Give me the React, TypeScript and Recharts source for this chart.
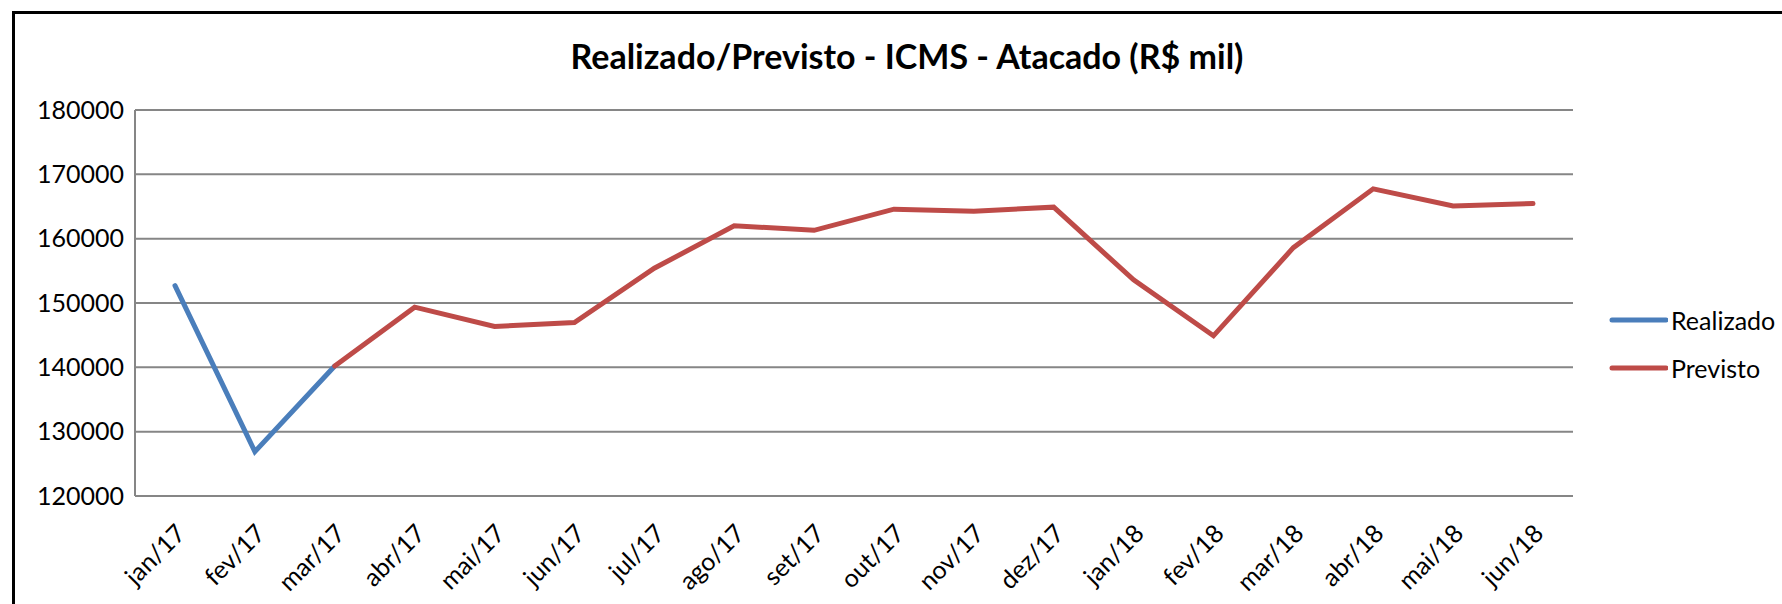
import React from "react";
import { LineChart, Line, XAxis, YAxis, CartesianGrid, Legend } from "recharts";

const months = [
  "jan/17", "fev/17", "mar/17", "abr/17", "mai/17", "jun/17", "jul/17", "ago/17", "set/17",
  "out/17", "nov/17", "dez/17", "jan/18", "fev/18", "mar/18", "abr/18", "mai/18", "jun/18",
];
const realizado: (number | null)[] = [
  152700, 126900, 140200, null, null, null, null, null, null,
  null, null, null, null, null, null, null, null, null,
];
const previsto: (number | null)[] = [
  null, null, 140200, 149350, 146350, 146950, 155400, 162000, 161300,
  164580, 164250, 164900, 153600, 144900, 158600, 167750, 165080, 165450,
];
const yTicks = [120000, 130000, 140000, 150000, 160000, 170000, 180000];
const seriesOrder = ["Realizado", "Previsto"];

const data = months.map((m, i) => ({ month: m, Realizado: realizado[i], Previsto: previsto[i] }));

const FONT = "Lato, 'Liberation Sans', sans-serif";
const GRID = "#868686";

function XTick({ x, y, payload }: any) {
  const px = x + 12;
  const py = y + 39;
  return (
    <text x={px} y={py} transform={`rotate(-45, ${px}, ${py})`}
      textAnchor="end" fontSize={25} fontFamily={FONT} fill="#000">
      {payload.value}
    </text>
  );
}

function YTick({ x, y, payload }: any) {
  return (
    <text x={x} y={y} dy="0.35em" textAnchor="end" fontSize={25} fontFamily={FONT} fill="#000">
      {payload.value}
    </text>
  );
}

function LegendContent({ payload }: any) {
  const items = [...(payload || [])].sort(
    (a: any, b: any) => seriesOrder.indexOf(a.value) - seriesOrder.indexOf(b.value)
  );
  return (
    <div style={{ fontFamily: FONT, fontSize: 25 }}>
      {items.map((p: any) => (
        <div key={p.value} style={{ display: "flex", alignItems: "center", height: 48 }}>
          <svg width={60} height={10}>
            <line x1={4} y1={5} x2={58} y2={5} stroke={p.color} strokeWidth={5} strokeLinecap="round" />
          </svg>
          <span style={{ marginLeft: 3 }}>{p.value}</span>
        </div>
      ))}
    </div>
  );
}

export default function App() {
  return (
    <div style={{ position: "absolute", left: 0, top: 0, width: 1782, height: 604, background: "#fff", overflow: "hidden" }}>
      <div style={{ position: "absolute", left: 12, top: 11, right: 0, bottom: 0, borderTop: "3px solid #000", borderLeft: "3px solid #000" }} />
      <div style={{
        position: "absolute", left: 0, width: 1814, top: 35, textAlign: "center",
        fontFamily: FONT, fontWeight: 700, fontSize: 34, lineHeight: "42px", color: "#000",
      }}>
        Realizado/Previsto - ICMS - Atacado (R$ mil)
      </div>
      <LineChart width={1782} height={604} data={data}
        margin={{ top: 110, right: 39, bottom: 28, left: 0 }}>
        <CartesianGrid vertical={false} stroke={GRID} strokeWidth={2} />
        <XAxis dataKey="month" height={80} padding={{ left: 40, right: 40 }}
          tickLine={false} tickSize={0} tickMargin={0} interval={0}
          axisLine={{ stroke: GRID, strokeWidth: 2 }} tick={<XTick />} />
        <YAxis width={135} domain={[120000, 180000]} ticks={yTicks} interval={0}
          tickLine={false} tickSize={0} tickMargin={11}
          axisLine={{ stroke: GRID, strokeWidth: 2 }} tick={<YTick />} />
        <Legend layout="vertical" align="right" verticalAlign="middle" content={<LegendContent />}
          wrapperStyle={{ left: 1608, top: 296, width: 170 }} />
        <Line dataKey="Realizado" stroke="#4A7EBB" strokeWidth={5} dot={false} activeDot={false}
          strokeLinecap="round" isAnimationActive={false} />
        <Line dataKey="Previsto" stroke="#BE4B48" strokeWidth={5} dot={false} activeDot={false}
          strokeLinecap="round" isAnimationActive={false} />
      </LineChart>
    </div>
  );
}
